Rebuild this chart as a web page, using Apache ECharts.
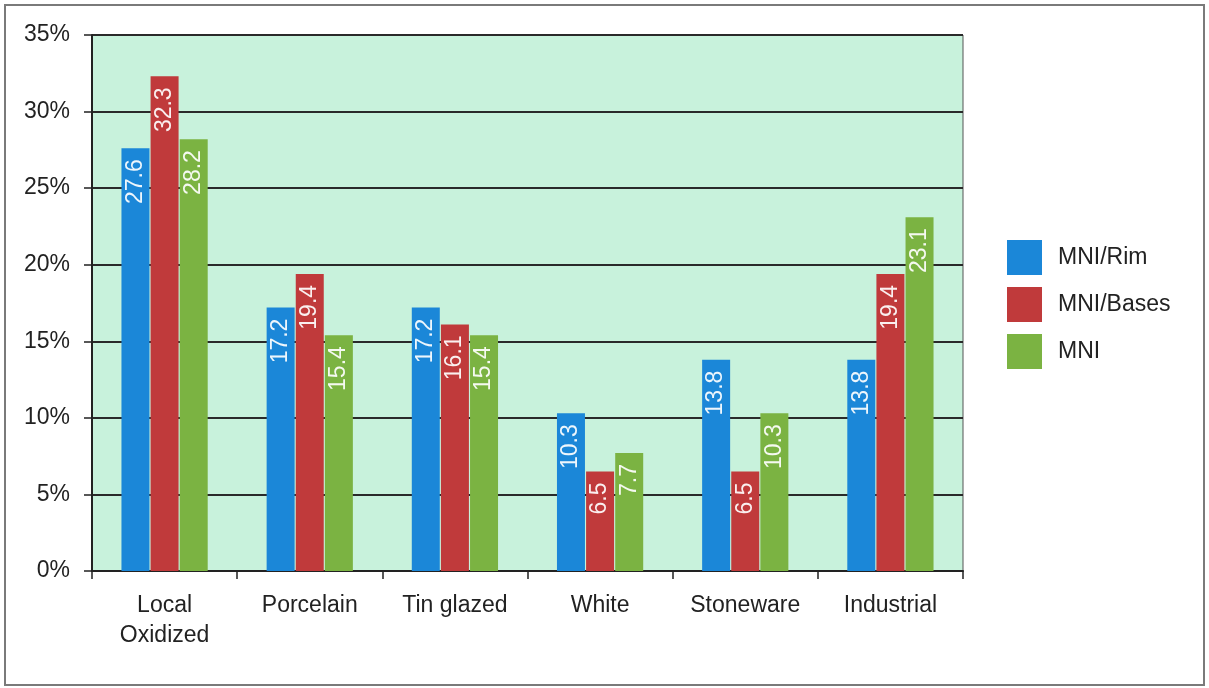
<!DOCTYPE html>
<html>
<head>
<meta charset="utf-8">
<title>MNI chart</title>
<script src="https://cdn.jsdelivr.net/npm/echarts@6/dist/echarts.min.js"></script>
<style>
    html, body { margin: 0; padding: 0; background: #fff; }
    #chart { width: 1209px; height: 688px; }
</style>
</head>
<body>
<div id="chart"></div>
<script>
// categories and values
var categories = ['Local\nOxidized', 'Porcelain', 'Tin glazed', 'White', 'Stoneware', 'Industrial'];
var seriesNames = ['MNI/Rim', 'MNI/Bases', 'MNI'];
var rimValues = [27.6, 17.2, 17.2, 10.3, 13.8, 13.8];
var basesValues = [32.3, 19.4, 16.1, 6.5, 6.5, 19.4];
var mniValues = [28.2, 15.4, 15.4, 7.7, 10.3, 23.1];
var colors = ['#1b87d8', '#c03a3b', '#7bb342'];

var fontFam = '"Liberation Sans", Arial, sans-serif';

function makeSeries(name, data, color) {
    return {
        name: name,
        type: 'bar',
        data: data,
        barWidth: 28,
        barGap: '4%',
        itemStyle: { color: color },
        label: {
            show: true,
            position: 'insideTop',
            rotate: 90,
            align: 'right',
            verticalAlign: 'middle',
            distance: 11,
            color: 'rgba(255,255,255,0.92)',
            fontSize: 23,
            fontFamily: fontFam,
            formatter: function (p) { return p.value.toFixed(1); }
        }
    };
}

var myChart = echarts.init(document.getElementById('chart'));
var option = {
    animation: false,
    textStyle: { fontFamily: fontFam },
    graphic: [{
        type: 'rect',
        shape: { x: 5, y: 5, width: 1199, height: 680 },
        style: { fill: 'none', stroke: '#7a7a7a', lineWidth: 2 },
        silent: true
    }],
    grid: {
        left: 92,
        right: 246,
        top: 35,
        bottom: 117,
        show: true,
        backgroundColor: '#c8f2dc',
        borderColor: '#555',
        borderWidth: 1
    },
    legend: {
        orient: 'vertical',
        left: 1007,
        top: 240,
        padding: 0,
        itemWidth: 35,
        itemHeight: 35,
        itemGap: 12,
        icon: 'rect',
        data: seriesNames,
        textStyle: {
            fontSize: 23,
            color: '#222',
            fontFamily: fontFam,
            padding: [3, 0, 0, 11]
        }
    },
    xAxis: {
        type: 'category',
        data: categories,
        axisLine: { lineStyle: { color: '#222', width: 2 } },
        axisTick: { show: true, length: 8, lineStyle: { color: '#222', width: 1.5 } },
        axisLabel: {
            margin: 20,
            fontSize: 23,
            color: '#222',
            lineHeight: 30,
            interval: 0
        }
    },
    yAxis: {
        type: 'value',
        min: 0,
        max: 35,
        interval: 5,
        axisLine: { show: true, lineStyle: { color: '#222', width: 2 } },
        axisTick: { show: true, length: 8, lineStyle: { color: '#222', width: 1.5 } },
        splitLine: { show: true, lineStyle: { color: '#2a2a2a', width: 2 } },
        axisLabel: {
            margin: 22,
            fontSize: 23,
            color: '#222',
            formatter: '{value}%'
        }
    },
    series: [
        makeSeries(seriesNames[0], rimValues, colors[0]),
        makeSeries(seriesNames[1], basesValues, colors[1]),
        makeSeries(seriesNames[2], mniValues, colors[2])
    ]
};
myChart.setOption(option);
</script>
</body>
</html>
